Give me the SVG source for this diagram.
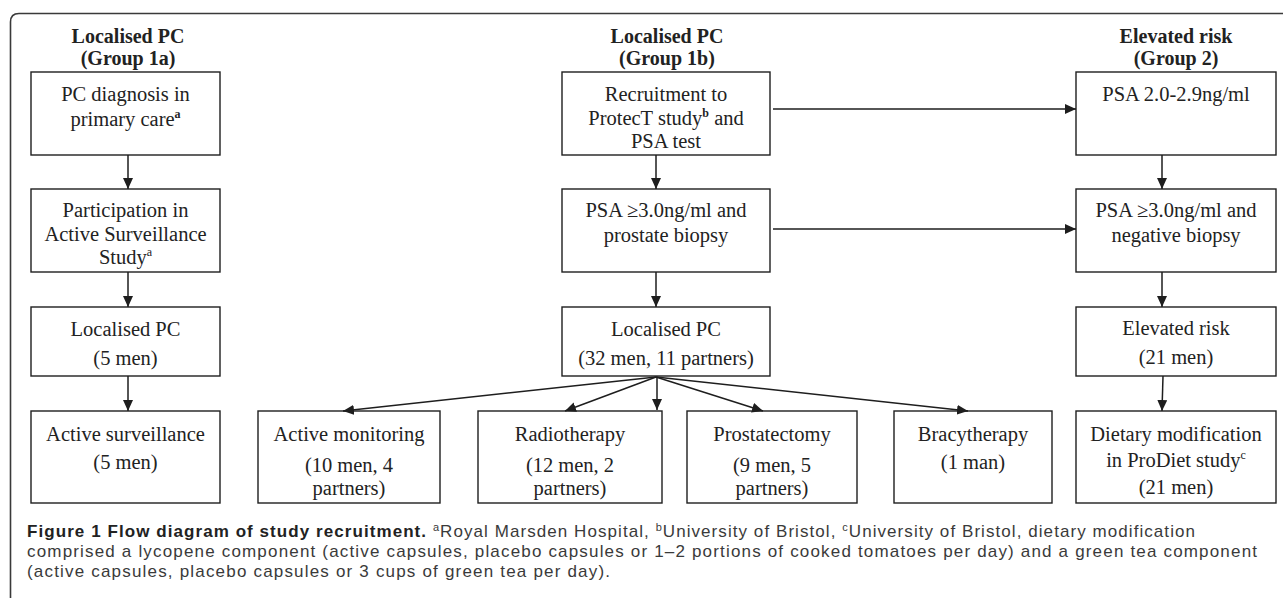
<svg xmlns="http://www.w3.org/2000/svg" width="1283" height="598" viewBox="0 0 1283 598">
<style>
.frame{fill:none;stroke:#3a3a3a;stroke-width:1.6}
.box{fill:#fff;stroke:#1e1e1e;stroke-width:1.4}
.t{font-family:"Liberation Serif","Times New Roman",serif;font-size:20.5px;fill:#222;text-anchor:middle}
.h{font-family:"Liberation Serif","Times New Roman",serif;font-size:20px;font-weight:bold;fill:#222;text-anchor:middle}
.sup{font-size:12px}
.conn line{stroke:#1e1e1e;stroke-width:1.5;marker-end:url(#ah)}
.cap{font-family:"Liberation Sans",Arial,sans-serif;font-size:17px;fill:#3a3a3a}
.capb{font-weight:bold;fill:#222}
</style>
<defs>
<marker id="ah" markerUnits="userSpaceOnUse" markerWidth="11" markerHeight="10" refX="11" refY="5" orient="auto">
<path d="M0,0 L11,5 L0,10 z" fill="#1e1e1e"/>
</marker>
</defs>
<rect width="1283" height="598" fill="#fff"/>
<path class="frame" d="M10.5,598 V22 Q10.5,13.5 19,13.5 H1283"/>

<g id="title-1a">
<text class="h" x="128" y="43">Localised PC</text>
<text class="h" x="128" y="65">(Group 1a)</text>
</g>
<g id="title-1b">
<text class="h" x="667" y="43">Localised PC</text>
<text class="h" x="667" y="65">(Group 1b)</text>
</g>
<g id="title-2">
<text class="h" x="1176" y="43">Elevated risk</text>
<text class="h" x="1176" y="65">(Group 2)</text>
</g>

<g id="n1a-1">
<rect class="box" x="31" y="72" width="189" height="83"/>
<text class="t" x="125.5" y="101">PC diagnosis in</text>
<text class="t" x="125.5" y="126">primary care<tspan class="sup" font-weight="bold" dy="-8">a</tspan></text>
</g>
<g id="n1a-2">
<rect class="box" x="31" y="189" width="189" height="83"/>
<text class="t" x="125.5" y="217">Participation in</text>
<text class="t" x="125.5" y="241">Active Surveillance</text>
<text class="t" x="125.5" y="264">Study<tspan class="sup" dy="-8">a</tspan></text>
</g>
<g id="n1a-3">
<rect class="box" x="31" y="307" width="189" height="69"/>
<text class="t" x="125.5" y="336">Localised PC</text>
<text class="t" x="125.5" y="365">(5 men)</text>
</g>
<g id="n1a-4">
<rect class="box" x="31" y="411" width="189" height="92"/>
<text class="t" x="125.5" y="441">Active surveillance</text>
<text class="t" x="125.5" y="469">(5 men)</text>
</g>

<g id="n1b-1">
<rect class="box" x="562" y="72" width="208" height="83"/>
<text class="t" x="666" y="101">Recruitment to</text>
<text class="t" x="666" y="125">ProtecT study<tspan class="sup" font-weight="bold" dy="-8">b</tspan><tspan dy="8"> and</tspan></text>
<text class="t" x="666" y="148">PSA test</text>
</g>
<g id="n1b-2">
<rect class="box" x="562" y="189" width="208" height="83"/>
<text class="t" x="666" y="217">PSA ≥3.0ng/ml and</text>
<text class="t" x="666" y="242">prostate biopsy</text>
</g>
<g id="n1b-3">
<rect class="box" x="562" y="307" width="208" height="69"/>
<text class="t" x="666" y="336">Localised PC</text>
<text class="t" x="666" y="365">(32 men, 11 partners)</text>
</g>

<g id="n-am">
<rect class="box" x="258" y="411" width="182" height="92"/>
<text class="t" x="349" y="441">Active monitoring</text>
<text class="t" x="349" y="472">(10 men, 4</text>
<text class="t" x="349" y="495">partners)</text>
</g>
<g id="n-rt">
<rect class="box" x="478" y="411" width="184" height="92"/>
<text class="t" x="570" y="441">Radiotherapy</text>
<text class="t" x="570" y="472">(12 men, 2</text>
<text class="t" x="570" y="495">partners)</text>
</g>
<g id="n-pr">
<rect class="box" x="687" y="411" width="170" height="92"/>
<text class="t" x="772" y="441">Prostatectomy</text>
<text class="t" x="772" y="472">(9 men, 5</text>
<text class="t" x="772" y="495">partners)</text>
</g>
<g id="n-br">
<rect class="box" x="894" y="411" width="158" height="92"/>
<text class="t" x="973" y="441">Bracytherapy</text>
<text class="t" x="973" y="469">(1 man)</text>
</g>

<g id="n2-1">
<rect class="box" x="1076" y="72" width="200" height="83"/>
<text class="t" x="1176" y="101">PSA 2.0-2.9ng/ml</text>
</g>
<g id="n2-2">
<rect class="box" x="1076" y="189" width="200" height="83"/>
<text class="t" x="1176" y="217">PSA ≥3.0ng/ml and</text>
<text class="t" x="1176" y="242">negative biopsy</text>
</g>
<g id="n2-3">
<rect class="box" x="1076" y="307" width="200" height="69"/>
<text class="t" x="1176" y="335">Elevated risk</text>
<text class="t" x="1176" y="364">(21 men)</text>
</g>
<g id="n2-4">
<rect class="box" x="1076" y="411" width="200" height="92"/>
<text class="t" x="1176" y="441">Dietary modification</text>
<text class="t" x="1176" y="467">in ProDiet study<tspan class="sup" dy="-8">c</tspan></text>
<text class="t" x="1176" y="494">(21 men)</text>
</g>

<g id="connectors" class="conn">
<line x1="128" y1="155" x2="128" y2="189"/>
<line x1="128" y1="272" x2="128" y2="307"/>
<line x1="128" y1="376" x2="128" y2="411"/>
<line x1="656" y1="155" x2="656" y2="189"/>
<line x1="656" y1="272" x2="656" y2="307"/>
<line x1="1162" y1="155" x2="1162" y2="189"/>
<line x1="1162" y1="272" x2="1162" y2="307"/>
<line x1="1163" y1="376" x2="1162" y2="411"/>
<line x1="773" y1="109" x2="1076" y2="109"/>
<line x1="773" y1="229" x2="1076" y2="229"/>
<line x1="656" y1="377" x2="343" y2="411"/>
<line x1="656" y1="377" x2="565" y2="411"/>
<line x1="657" y1="377" x2="657" y2="410"/>
<line x1="656" y1="377" x2="763" y2="411"/>
<line x1="656" y1="377" x2="968" y2="411"/>
</g>

<g id="caption">
<text class="cap" x="27" y="537" textLength="1168"><tspan class="capb">Figure 1 Flow diagram of study recruitment.</tspan> <tspan font-size="11" dy="-6">a</tspan><tspan dy="6">Royal Marsden Hospital, </tspan><tspan font-size="11" dy="-6">b</tspan><tspan dy="6">University of Bristol, </tspan><tspan font-size="11" dy="-6">c</tspan><tspan dy="6">University of Bristol, dietary modification</tspan></text>
<text class="cap" x="27" y="557" textLength="1230">comprised a lycopene component (active capsules, placebo capsules or 1–2 portions of cooked tomatoes per day) and a green tea component</text>
<text class="cap" x="27" y="577" textLength="583">(active capsules, placebo capsules or 3 cups of green tea per day).</text>
</g>
</svg>
